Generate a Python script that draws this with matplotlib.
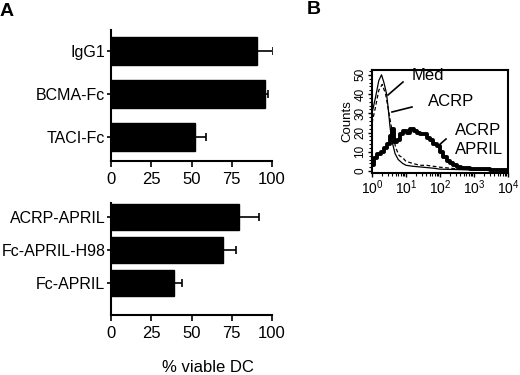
import numpy as np
import matplotlib
matplotlib.use("Agg")
import matplotlib.pyplot as plt
from matplotlib.lines import Line2D
from matplotlib.ticker import MultipleLocator, LogLocator

plt.rcParams['font.family'] = ['Liberation Sans', 'DejaVu Sans']

# ---- Panel A data ----
top_labels = ["IgG1", "BCMA-Fc", "TACI-Fc"]
top_values = [90.5, 95.5, 52]
top_errors = [10, 2, 7]

bot_labels = ["ACRP-APRIL", "Fc-APRIL-H98", "Fc-APRIL"]
bot_values = [79.7, 69.8, 39.1]
bot_errors = [12.5, 8, 5]

x_ticks = [0, 25, 50, 75, 100]
x_label = "% viable DC"

# ---- Panel B data (log10 fluorescence, counts) ----
med_logx = [0, .1, .2, .28, .35, .43, .48, .53, .58, .68, .77, .9, 1.0, 1.2, 1.5, 1.8, 2.0, 2.5, 3, 3.5, 4]
med_counts = [30, 38, 47, 50, 46, 40, 32, 23, 16, 9, 6, 4, 3, 2.5, 2, 1.5, 1, 0.8, 0.5, 0.3, 0.3]

acrp_logx = [0, .1, .2, .3, .4, .5, .6, .7, .8, .9, 1.0, 1.2, 1.4, 1.6, 1.8, 2.0, 2.3, 2.6, 3, 3.5, 4]
acrp_counts = [25, 33, 42, 45, 40, 30, 20, 12, 8, 7, 5, 4, 3, 3, 2.5, 2, 1.5, 1, 0.8, 0.5, 0.3]

april_logx = [0, .1, .2, .3, .4, .5, .58, .62, .68, .77, .87, .97, 1.07, 1.17, 1.27, 1.36, 1.46,
              1.56, 1.66, 1.75, 1.85, 1.95, 2.05, 2.15, 2.25, 2.34, 2.44, 2.54, 2.7, 3.0, 3.3, 3.6, 4.0]
april_counts = [3, 7, 9, 10, 12, 14, 18, 22, 15, 16, 19, 21, 20, 22, 21, 20, 19,
                19, 17, 16, 14, 13, 10, 7.5, 5, 4, 3, 2, 1.5, 1.2, 1, 0.8, 0.5]

W, H = 520, 375
fig = plt.figure(figsize=(W / 100, H / 100), dpi=100)


def rect(l, t, r, b):
    return [l / W, 1 - b / H, (r - l) / W, (b - t) / H]


def fx(x):
    return x / W


def fy(y):
    return 1 - y / H


def bar_panel(ax, labels, values, errors, height, ylim):
    pos = np.arange(len(labels))
    ax.barh(pos, values, height=height, color='black', edgecolor='black')
    ax.errorbar(values, pos, xerr=[np.zeros(len(errors)), errors], fmt='none',
                ecolor='black', elinewidth=1.2, capsize=3, capthick=1.2)
    ax.set_xlim(0, 100)
    ax.set_ylim(*ylim)
    ax.set_yticks(pos)
    ax.set_yticklabels(labels, fontsize=11.5)
    ax.set_xticks(x_ticks)
    ax.set_xticklabels([str(t) for t in x_ticks], fontsize=12)
    for s in ['top', 'right']:
        ax.spines[s].set_visible(False)
    for s in ['left', 'bottom']:
        ax.spines[s].set_linewidth(1.5)
    ax.tick_params(axis='y', length=3, width=1.2, pad=1)
    ax.tick_params(axis='x', length=4, width=1.2, pad=4)


ax1 = fig.add_axes(rect(111, 30, 272, 161))
bar_panel(ax1, top_labels, top_values, top_errors, 0.65, (2.57, -0.49))

ax2 = fig.add_axes(rect(111, 203, 272, 315))
bar_panel(ax2, bot_labels, bot_values, bot_errors, 0.79, (2.98, -0.44))

fig.text(fx(208), fy(367), x_label, ha='center', va='center', fontsize=12)
fig.text(fx(0), fy(11), "A", ha='left', va='center', fontsize=14, fontweight='bold')
fig.text(fx(307), fy(10), "B", ha='left', va='center', fontsize=14, fontweight='bold')

# ---- Panel B ----
ax3 = fig.add_axes(rect(372, 70, 508, 173))
ax3.set_xscale('log')
ax3.plot(10 ** np.array(med_logx), med_counts, color='black', lw=0.9)
ax3.plot(10 ** np.array(acrp_logx), acrp_counts, color='black', lw=0.9, ls=(0, (3, 2)))
ax3.plot(10 ** np.array(april_logx), april_counts, color='black', lw=2.8, drawstyle='steps-mid')
ax3.set_xlim(1, 1e4)
ax3.set_ylim(-1, 52.5)
ax3.set_yticks([0, 10, 20, 30, 40, 50])
ax3.yaxis.set_minor_locator(MultipleLocator(2))
ax3.xaxis.set_major_locator(LogLocator(base=10, numticks=10))
ax3.xaxis.set_minor_locator(LogLocator(base=10, subs=np.arange(2, 10), numticks=10))
for lab in ax3.get_yticklabels():
    lab.set_rotation(90)
    lab.set_va('center')
ax3.tick_params(axis='y', labelsize=8.5, length=3, width=1, pad=1)
ax3.tick_params(axis='y', which='minor', length=2, width=0.8)
ax3.tick_params(axis='x', labelsize=10, length=3, width=1, pad=1)
ax3.tick_params(axis='x', which='minor', length=2, width=0.8)
for s in ax3.spines.values():
    s.set_linewidth(1.5)
ax3.set_ylabel("Counts", fontsize=9.5, labelpad=1)

fig.text(fx(412), fy(76), "Med", ha='left', va='center', fontsize=12)
fig.text(fx(428), fy(102), "ACRP", ha='left', va='center', fontsize=12)
fig.text(fx(455), fy(131), "ACRP", ha='left', va='center', fontsize=12)
fig.text(fx(455), fy(149), "APRIL", ha='left', va='center', fontsize=12)

for (x0, y0, x1, y1) in [(403, 82, 388, 95), (412, 107, 392, 112), (446, 139, 438, 146)]:
    fig.add_artist(Line2D([fx(x0), fx(x1)], [fy(y0), fy(y1)], color='black', lw=1.2,
                          transform=fig.transFigure))

fig.savefig("out.png", dpi=100)
